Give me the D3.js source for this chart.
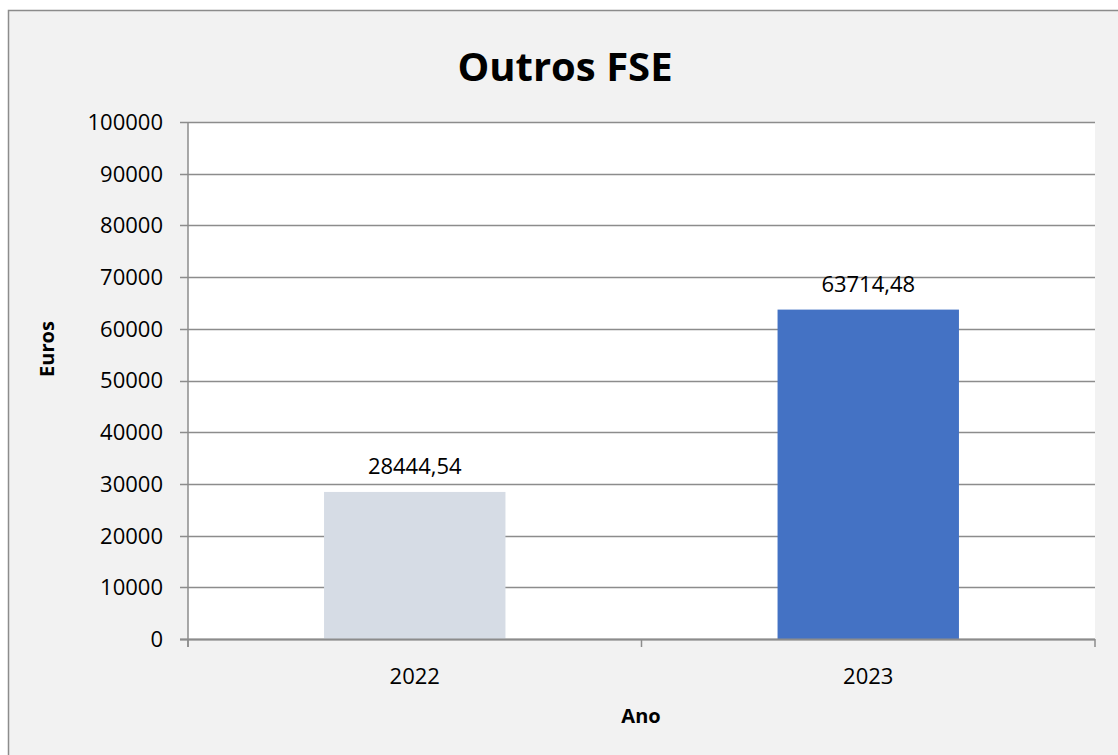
<!DOCTYPE html>
<html lang="pt">
<head>
  <meta charset="UTF-8" />
  <title>Outros FSE</title>
  <style>
    body { margin: 0; padding: 0; background: #fff; font-family: "Open Sans", sans-serif; }
    svg { display: block; }
  </style>
</head>
<body>
  <svg id="chart"></svg>

  <script src="https://d3js.org/d3.v7.min.js"></script>
  <script>
    const years = ["2022", "2023"];
    const values = [28444.54, 63714.48];
    const barColors = ["#d6dce5", "#4472c4"];
    const yTicks = [0, 10000, 20000, 30000, 40000, 50000, 60000, 70000, 80000, 90000, 100000];

    const width = 1118, height = 755;
    const plot = { left: 188, right: 1095, top: 122, bottom: 639 };

    const svg = d3.select("#chart")
      .attr("width", width)
      .attr("height", height);

    // outer chart area
    svg.append("rect")
      .attr("x", 8.5).attr("y", 10.5)
      .attr("width", 1130).attr("height", 760)
      .attr("fill", "#f2f2f2")
      .attr("stroke", "#8c8c8c")
      .attr("stroke-width", 1.5);

    svg.append("rect")
      .attr("x", plot.left).attr("y", plot.top)
      .attr("width", plot.right - plot.left)
      .attr("height", plot.bottom - plot.top)
      .attr("fill", "#fff");

    const x = d3.scaleBand()
      .domain(years)
      .range([plot.left, plot.right])
      .paddingInner(0.6)
      .paddingOuter(0.3);

    const y = d3.scaleLinear()
      .domain([0, 100000])
      .range([plot.bottom, plot.top]);

    // gridlines
    svg.append("g")
      .selectAll("line")
      .data(yTicks)
      .join("line")
      .attr("x1", plot.left - 8)
      .attr("x2", plot.right)
      .attr("y1", d => Math.round(y(d)) + 0.5)
      .attr("y2", d => Math.round(y(d)) + 0.5)
      .attr("stroke", "#8c8c8c")
      .attr("stroke-width", 1.5);

    // y tick labels
    svg.append("g")
      .selectAll("text")
      .data(yTicks)
      .join("text")
      .attr("x", plot.left - 25)
      .attr("y", d => y(d))
      .attr("dy", "0.36em")
      .attr("text-anchor", "end")
      .attr("font-size", "22px")
      .attr("fill", "#000")
      .text(d => d);

    // bars
    svg.append("g")
      .selectAll("rect")
      .data(years)
      .join("rect")
      .attr("x", d => x(d))
      .attr("y", (d, i) => y(values[i]))
      .attr("width", x.bandwidth())
      .attr("height", (d, i) => y(0) - y(values[i]))
      .attr("fill", (d, i) => barColors[i]);

    // data labels
    svg.append("g")
      .selectAll("text")
      .data(years)
      .join("text")
      .attr("x", d => x(d) + x.bandwidth() / 2)
      .attr("y", (d, i) => y(values[i]) - 18)
      .attr("text-anchor", "middle")
      .attr("font-size", "22px")
      .attr("fill", "#000")
      .text((d, i) => values[i].toFixed(2).replace(".", ","));

    // axes lines
    svg.append("line")
      .attr("x1", plot.left).attr("x2", plot.left)
      .attr("y1", plot.top).attr("y2", plot.bottom + 8)
      .attr("stroke", "#8c8c8c").attr("stroke-width", 1.5);

    svg.append("line")
      .attr("x1", plot.left - 8).attr("x2", plot.right)
      .attr("y1", plot.bottom + 0.5).attr("y2", plot.bottom + 0.5)
      .attr("stroke", "#8c8c8c").attr("stroke-width", 2);

    // x category boundary ticks
    const step = (plot.right - plot.left) / years.length;
    svg.append("g")
      .selectAll("line")
      .data(d3.range(years.length + 1))
      .join("line")
      .attr("x1", i => plot.left + i * step)
      .attr("x2", i => plot.left + i * step)
      .attr("y1", plot.bottom)
      .attr("y2", plot.bottom + 8)
      .attr("stroke", "#8c8c8c").attr("stroke-width", 1.5);

    // x labels
    svg.append("g")
      .selectAll("text")
      .data(years)
      .join("text")
      .attr("x", d => x(d) + x.bandwidth() / 2)
      .attr("y", 684)
      .attr("text-anchor", "middle")
      .attr("font-size", "22px")
      .attr("fill", "#000")
      .text(d => d);

    // titles
    svg.append("text")
      .attr("x", 565).attr("y", 81)
      .attr("text-anchor", "middle")
      .attr("font-size", "40px")
      .attr("font-weight", "bold")
      .text("Outros FSE");

    svg.append("text")
      .attr("x", 641).attr("y", 723)
      .attr("text-anchor", "middle")
      .attr("font-size", "20px")
      .attr("font-weight", "bold")
      .text("Ano");

    svg.append("text")
      .attr("transform", "translate(54,349) rotate(-90)")
      .attr("text-anchor", "middle")
      .attr("font-size", "20px")
      .attr("font-weight", "bold")
      .text("Euros");
  </script>
</body>
</html>
